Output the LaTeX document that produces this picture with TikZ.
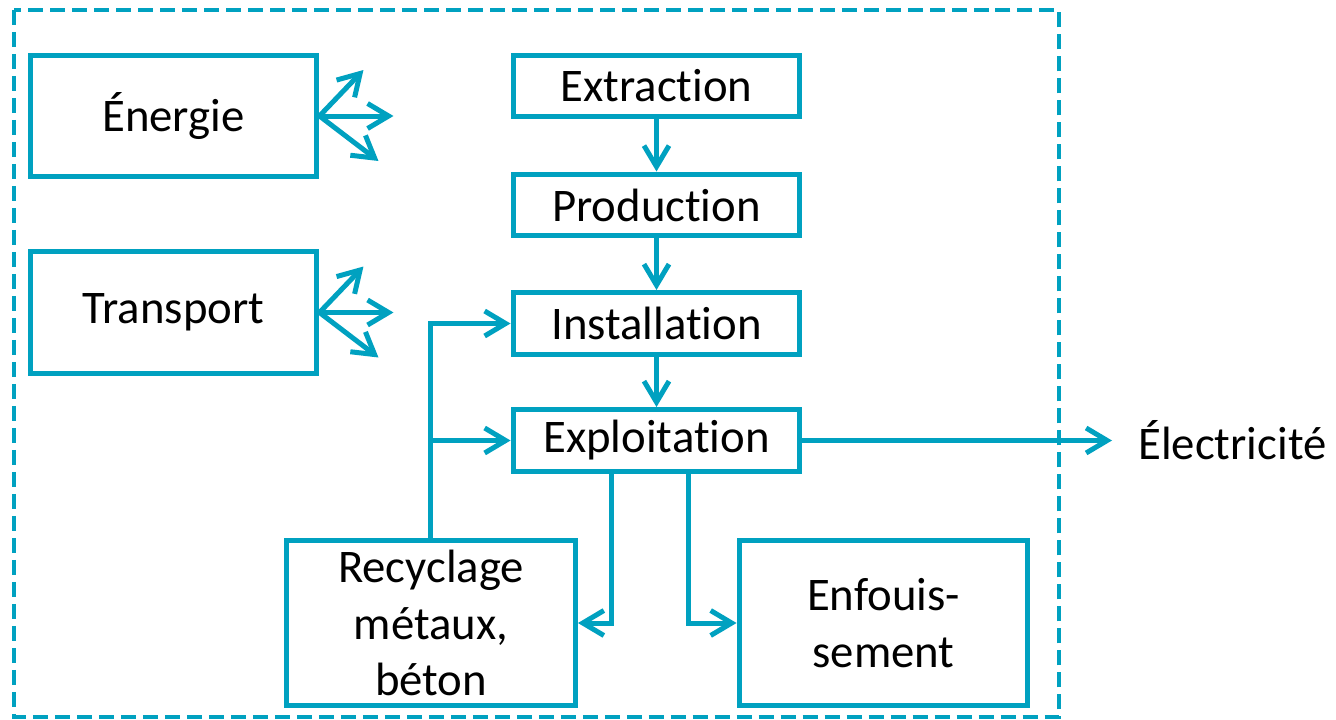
\documentclass[tikz,border=0pt]{standalone}
\usepackage{fontspec}
\setmainfont[Ligatures={NoCommon,NoRare}]{Carlito}
\usetikzlibrary{arrows.meta}
\definecolor{lcablue}{RGB}{0,161,192}
\tikzset{>={Straight Barb[length=0.42cm,width=0.5cm]}}
\tikzstyle{stage}=[rectangle,draw=lcablue,line width=0.1cm,minimum width=5.74cm,minimum height=1.24cm,inner sep=0pt,font=\fontsize{26.6}{32.4}\selectfont]
\tikzstyle{source}=[stage,minimum height=2.44cm]
\tikzstyle{endlife}=[stage,minimum width=5.78cm,minimum height=3.32cm,align=center]
\tikzstyle{flow}=[draw=lcablue,line width=0.1cm,->]
\tikzstyle{frame}=[draw=lcablue,line width=0.08cm,dash pattern=on 0.3cm off 0.14cm]

\begin{document}
\begin{tikzpicture}[x=0.02cm,y=-0.02cm]
	\useasboundingbox (0,0) rectangle (1336,720);
	\def \col {656.5}

	\draw[frame] (14,10) rectangle (1059,717);

	\node[source] (ener) at (173.5,116) {Énergie};
	\node[source] (trans) at (173.5,312.5) {Transport};

	\node[stage] (extr) at (\col,86) {Extraction};
	\node[stage] (prod) at (\col,205) {Production};
	\node[stage] (inst) at (\col,323.5) {Installation};
	\node[stage] (expl) at (\col,440.5) {Exploitation};

	\node[endlife] (recy) at (431,623) {Recyclage\\métaux,\\béton};
	\node[endlife] (enfo) at (883.5,623) {Enfouis-\\sement};

	\node[anchor=west,inner xsep=0.52cm,inner ysep=0pt,font=\fontsize{26.6}{32.4}\selectfont] (elec) at (1112,440.5) {Électricité};

	\draw[flow] (ener.east) -- ++(44,-46);
	\draw[flow] (ener.east) -- ++(74,0);
	\draw[flow] (ener.east) -- ++(59,45);
	\draw[flow] (trans.east) -- ++(44,-46);
	\draw[flow] (trans.east) -- ++(74,0);
	\draw[flow] (trans.east) -- ++(59,45);

	\draw[flow] (extr) -- (prod);
	\draw[flow] (prod) -- (inst);
	\draw[flow] (inst) -- (expl);
	\draw[flow] (expl) -- (elec);

	\coordinate (fork) at (430,440.5);
	\draw[flow] (recy.north -| fork) |- (inst.west);
	\draw[flow] (fork) -- (expl.west);

	\draw[flow] ([xshift=-0.91cm]expl.south) |- (recy.east);
	\draw[flow] ([xshift=0.63cm]expl.south) |- (enfo.west);
\end{tikzpicture}
\end{document}
